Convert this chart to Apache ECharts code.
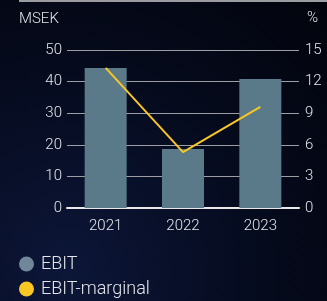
<!DOCTYPE html>
<html>
<head>
<meta charset="utf-8">
<script src="https://cdn.jsdelivr.net/npm/echarts@6/dist/echarts.min.js"></script>
<style>
  html, body { margin: 0; padding: 0; }
  body { background: radial-gradient(ellipse at 20% 90%, #0c1638 0%, #050a1c 55%, #02040c 100%); }
  #chart { width: 327px; height: 301px; }
</style>
</head>
<body>
<div id="chart"></div>
<script>
const years = ['2021', '2022', '2023']
const ebit = [44.3, 18.7, 40.8]
const ebitMargin = [13.3, 5.3, 9.6]

const chart = echarts.init(document.getElementById('chart'))
const textColor = '#e4e6ea'

function legendAt(top, name, color) {
  return {
    left: 19,
    top: top,
    padding: 0,
    itemWidth: 15,
    itemHeight: 15,
    icon: 'circle',
    textStyle: { color: textColor, fontSize: 18, fontFamily: 'Roboto', fontWeight: 300, padding: [0, 0, 0, 2] },
    data: [{ name: name, itemStyle: { color: color } }]
  }
}

const option = {
  textStyle: { fontFamily: 'Roboto', fontWeight: 300 },
  graphic: [
    { type: 'line', shape: { x1: 19, y1: 1, x2: 327, y2: 1 }, style: { stroke: '#9a9ca2', lineWidth: 2 } },
    { type: 'text', left: 19, top: 12, style: { text: 'MSEK', fill: textColor, fontSize: 15, fontFamily: 'Roboto', fontWeight: 300 } },
    { type: 'text', left: 307, top: 11, style: { text: '%', fill: textColor, fontSize: 15, fontFamily: 'Roboto', fontWeight: 300 } }
  ],
  legend: [
    legendAt(255, 'EBIT', '#6f8798'),
    legendAt(280, 'EBIT-marginal', '#f9c623')
  ],
  grid: { left: 67, right: 28, top: 50, bottom: 93 },
  xAxis: {
    type: 'category',
    data: years,
    axisLine: { lineStyle: { color: '#e8e8e8', width: 2 } },
    axisTick: { show: false },
    axisLabel: { color: textColor, fontSize: 15, fontWeight: 300, margin: 11 }
  },
  yAxis: [
    {
      type: 'value', min: 0, max: 50, interval: 10,
      axisLabel: { color: textColor, fontSize: 15, fontWeight: 300, margin: 5 },
      splitLine: { lineStyle: { color: '#9c9ea4', width: 1 } },
      axisLine: { show: false }, axisTick: { show: false }
    },
    {
      type: 'value', min: 0, max: 15, interval: 3,
      axisLabel: { color: textColor, fontSize: 15, fontWeight: 300, margin: 6 },
      splitLine: { show: false },
      axisLine: { show: false }, axisTick: { show: false }
    }
  ],
  series: [
    {
      name: 'EBIT',
      type: 'bar',
      data: ebit,
      barWidth: 42,
      itemStyle: { color: '#5a7a89' }
    },
    {
      name: 'EBIT-marginal',
      type: 'line',
      yAxisIndex: 1,
      data: ebitMargin,
      symbol: 'none',
      lineStyle: { color: '#f9c623', width: 2 },
      itemStyle: { color: '#f9c623' }
    }
  ]
}

chart.setOption(option)
</script>
</body>
</html>
